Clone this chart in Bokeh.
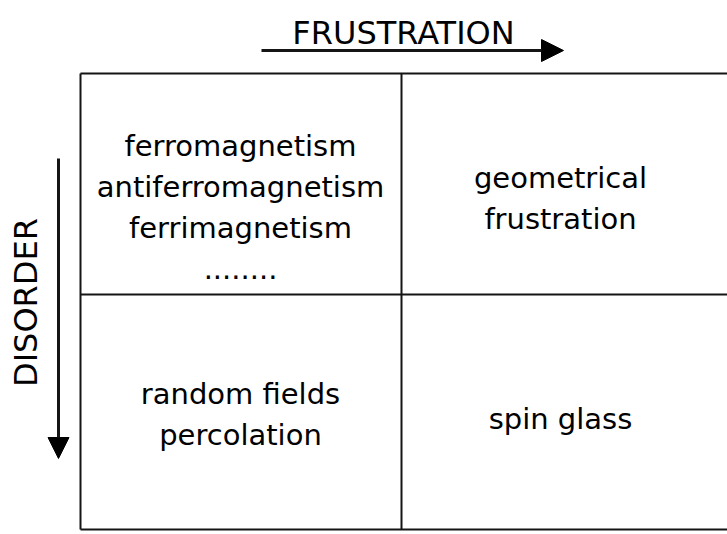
import math
from bokeh.plotting import figure
from bokeh.models import Range1d, Arrow, NormalHead
from bokeh.core.properties import value
from bokeh.embed import file_html
from bokeh.resources import INLINE

# ---- content ----
x_axis_label = "FRUSTRATION"
y_axis_label = "DISORDER"
top_left_lines = ["ferromagnetism", "antiferromagnetism", "ferrimagnetism", "........"]
top_right_lines = ["geometrical", "frustration"]
bottom_left_lines = ["random fields", "percolation"]
bottom_right_lines = ["spin glass"]

# ---- layout (picture pixel coordinates) ----
W, H = 727, 534
col_edges = [80, 401, 760]
row_edges = [73, 294, 529]
col_centers = [240, 560]
line_step = 41

FONT = value("DejaVu Sans")
BODY_SIZE = "29px"
LABEL_SIZE = "32px"
INK = "#000000"
LINE = "#151515"

p = figure(width=W, height=H,
           x_range=Range1d(0, W), y_range=Range1d(H, 0),
           output_backend="svg", toolbar_location=None,
           x_axis_type=None, y_axis_type=None, min_border=0)
p.grid.visible = False
p.outline_line_color = None
p.background_fill_color = "white"
p.border_fill_color = "white"

# grid box
p.multi_line(xs=[[col_edges[0], col_edges[-1]] for _ in row_edges],
             ys=[[y, y] for y in row_edges], line_color=LINE, line_width=2)
p.multi_line(xs=[[x, x] for x in col_edges],
             ys=[[row_edges[0], row_edges[-1]] for _ in col_edges],
             line_color=LINE, line_width=2)

def block(lines, cx, first_baseline):
    p.text(x=[cx] * len(lines),
           y=[first_baseline + i * line_step for i in range(len(lines))],
           text=lines, text_font=FONT, text_font_size=BODY_SIZE,
           text_align="center", text_baseline="alphabetic", text_color=INK)

block(top_left_lines, col_centers[0], 145)
block(top_right_lines, col_centers[1], 177)
block(bottom_left_lines, col_centers[0], 393)
block(bottom_right_lines, col_centers[1], 418)

# axis labels
p.text(x=[403], y=[32], text=[x_axis_label], text_font=FONT, text_font_size=LABEL_SIZE,
       text_align="center", text_baseline="alphabetic", text_color=INK)
p.text(x=[25], y=[302], text=[y_axis_label], angle=math.pi / 2, text_font=FONT,
       text_font_size=LABEL_SIZE, text_align="center", text_baseline="alphabetic",
       text_color=INK)

# arrows
p.add_layout(Arrow(end=NormalHead(size=22, fill_color=INK, line_color=INK),
                   x_start=261, y_start=50, x_end=563, y_end=50,
                   line_width=3, line_color=LINE))
p.add_layout(Arrow(end=NormalHead(size=21, fill_color=INK, line_color=INK),
                   x_start=58, y_start=158, x_end=58, y_end=458,
                   line_width=3, line_color=LINE))

open("out.html", "w").write(file_html(p, INLINE))
